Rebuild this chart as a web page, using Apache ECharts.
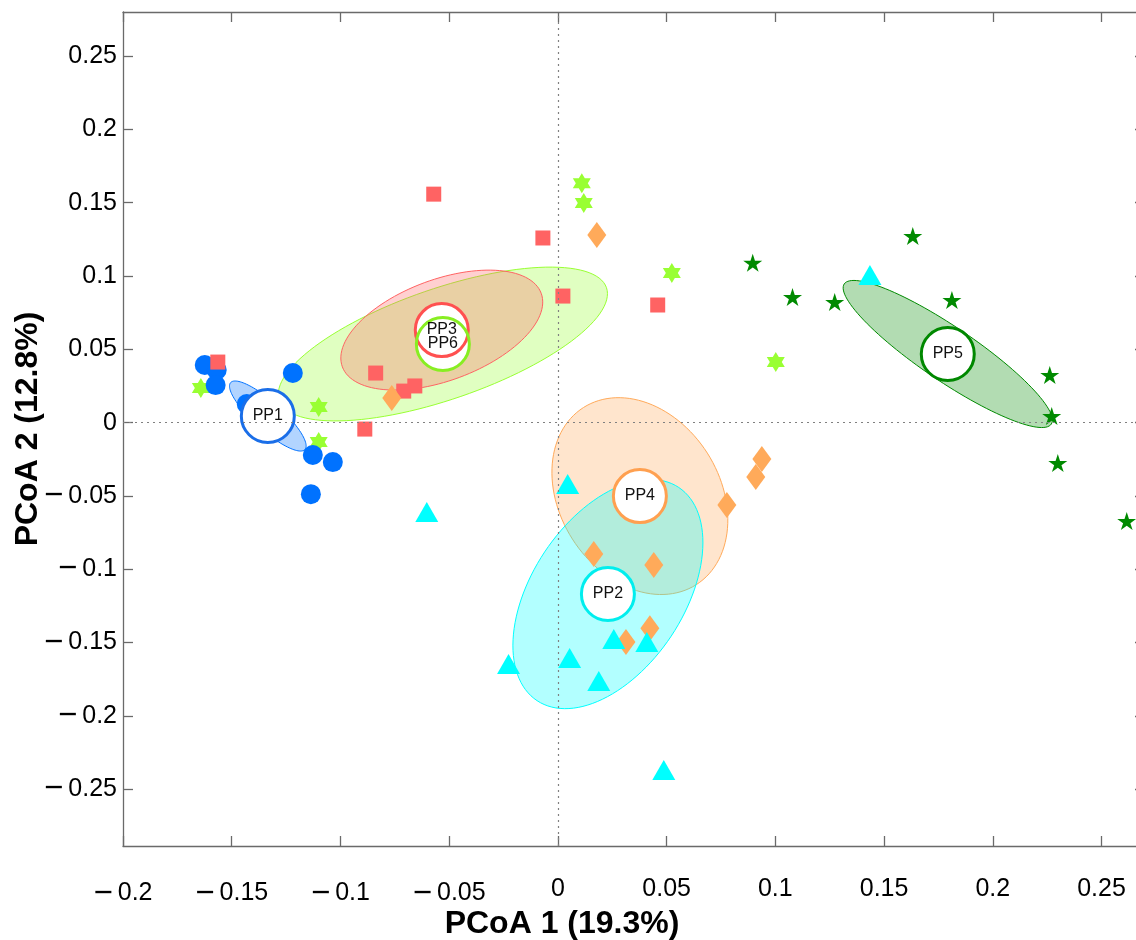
<!DOCTYPE html>
<html>
<head>
<meta charset="utf-8">
<script src="https://cdn.jsdelivr.net/npm/echarts@6/dist/echarts.min.js"></script>
<style>
html,body{margin:0;padding:0;background:#fff;}
#chart{width:1136px;height:940px;}
</style>
</head>
<body>
<div id="chart"></div>
<script>
// ---------------- data ----------------
const xTicks = [-0.2, -0.15, -0.1, -0.05, 0, 0.05, 0.1, 0.15, 0.2, 0.25];
const yTicks = [-0.25, -0.2, -0.15, -0.1, -0.05, 0, 0.05, 0.1, 0.15, 0.2, 0.25];
const xTitle = 'PCoA 1 (19.3%)';
const yTitle = 'PCoA 2 (12.8%)';

const groupNames = ['PP1', 'PP2', 'PP3', 'PP4', 'PP5', 'PP6'];

const pp1Points = [[-0.1624, 0.0393], [-0.1569, 0.0359], [-0.1574, 0.0256], [-0.1219, 0.0338],
  [-0.1431, 0.0127], [-0.1127, -0.0221], [-0.1035, -0.0269], [-0.1136, -0.0488]];
const pp2Points = [[0.0045, -0.0419], [-0.0227, -0.1646], [0.0054, -0.1605], [0.0188, -0.1762],
  [0.0257, -0.1475], [0.0409, -0.1496], [0.0487, -0.2369], [-0.0603, -0.0610], [0.1435, 0.1006]];
const pp3Points = [[-0.0571, 0.1558], [-0.0069, 0.1259], [0.0023, 0.0863], [-0.1564, 0.0413],
  [-0.0838, 0.0338], [-0.0709, 0.0215], [-0.0658, 0.0250], [-0.0888, -0.0044], [0.0459, 0.0802]];
const pp4Points = [[0.0179, 0.1279], [-0.0764, 0.0168], [0.0938, -0.0248], [0.0910, -0.0371],
  [0.0777, -0.0562], [0.0165, -0.0896], [0.0441, -0.0971], [0.0423, -0.1402], [0.0313, -0.1496]];
const pp5Points = [[0.0896, 0.1090], [0.1632, 0.1272], [0.1079, 0.0856], [0.1273, 0.0822],
  [0.1812, 0.0836], [0.2262, 0.0324], [0.2271, 0.0045], [0.2299, -0.0276], [0.2616, -0.0671]];
const pp6Points = [[0.0110, 0.1633], [0.0119, 0.1497], [-0.1642, 0.0236], [-0.1100, 0.0106],
  [-0.1100, -0.0132], [0.0524, 0.1020], [0.1002, 0.0413]];

const centroidX = [-0.1334, 0.0230, -0.0534, 0.0377, 0.1793, -0.0529];
const centroidY = [0.0045, -0.1169, 0.0631, -0.0501, 0.0468, 0.0536];
// ellipse semi-axis vectors (data units)
const ellipseAxis1X = [0.01709, 0.03258, 0.04572, 0.02595, 0.04761, 0.07524];
const ellipseAxis1Y = [-0.02281, 0.07270, 0.02509, -0.06038, -0.04778, 0.03840];
const ellipseAxis2X = [-0.00430, 0.02911, 0.00806, -0.03103, -0.00696, 0.00830];
const ellipseAxis2Y = [-0.00709, -0.02868, -0.03229, -0.02931, -0.01525, -0.03572];

// ---------------- styles ----------------
const groupPoints = [pp1Points, pp2Points, pp3Points, pp4Points, pp5Points, pp6Points];
const colors = ['#0072ff', '#00ffff', '#ff6363', '#ffaa5a', '#008a00', '#99ff33'];
const fills = ['rgba(0,114,255,0.3)', 'rgba(0,255,255,0.3)', 'rgba(255,99,99,0.3)',
  'rgba(255,170,90,0.3)', 'rgba(0,138,0,0.3)', 'rgba(153,255,51,0.3)'];
const ringColors = ['#1a6ee8', '#00eeee', '#ff5050', '#ffa050', '#008800', '#88ee22'];
const hexagram = 'path://M0,-10L2.887,-5L8.66,-5L5.774,0L8.66,5L2.887,5L0,10L-2.887,5L-8.66,5L-5.774,0L-8.66,-5L-2.887,-5Z';
const pentagram = 'path://M0,-10L2.245,-3.09L9.511,-3.09L3.633,1.18L5.878,8.09L0,3.82L-5.878,8.09L-3.633,1.18L-9.511,-3.09L-2.245,-3.09Z';
const symbols = ['circle', 'triangle', 'rect', 'diamond', pentagram, hexagram];
const sizes = [20, [23, 20], 15, [19, 26], [19, 18], [18, 20]];
const FONT = '"Liberation Sans", Arial, Helvetica, sans-serif';

function fmt(v) {
  const a = Math.round(Math.abs(v) * 1000) / 1000;
  return v < -1e-9 ? '{m|\u2212}{n|\u2009' + a + '}' : '{n|' + a + '}';
}
const labelRich = {
  m: { fontSize: 33, fontFamily: FONT, color: '#000' },
  n: { fontSize: 25, fontFamily: FONT, color: '#000' }
};

const ellipseOrder = [0, 5, 2, 3, 1, 4];
const markerOrder = [5, 0, 2, 3, 1, 4];

const ellipseData = ellipseOrder.map(g => [centroidX[g], centroidY[g], ellipseAxis1X[g], ellipseAxis1Y[g],
  ellipseAxis2X[g], ellipseAxis2Y[g], g]);

function renderEllipse(params, api) {
  const cx = api.value(0), cy = api.value(1);
  const ux = api.value(2), uy = api.value(3), vx = api.value(4), vy = api.value(5);
  const g = api.value(6);
  const pts = [];
  const N = 120;
  for (let k = 0; k < N; k++) {
    const t = 2 * Math.PI * k / N;
    pts.push(api.coord([cx + Math.cos(t) * ux + Math.sin(t) * vx, cy + Math.cos(t) * uy + Math.sin(t) * vy]));
  }
  return {
    type: 'polygon',
    shape: { points: pts },
    style: { fill: fills[g], stroke: colors[g], lineWidth: 1 }
  };
}

const series = [];
// zero lines
series.push({
  type: 'line', data: [], z: 0, silent: true,
  markLine: {
    silent: true, symbol: 'none', animation: false,
    label: { show: false },
    lineStyle: { type: [2, 4], color: '#808080', width: 1.2 },
    data: [{ xAxis: 0 }, { yAxis: 0 }]
  }
});
// ellipses
series.push({
  type: 'custom', renderItem: renderEllipse, data: ellipseData, z: 1,
  dimensions: ['cx', 'cy', 'ux', 'uy', 'vx', 'vy', 'g'],
  encode: { x: 0, y: 1 }, silent: true
});
// markers
markerOrder.forEach(g => {
  series.push({
    type: 'scatter', name: groupNames[g], data: groupPoints[g], z: 2,
    symbol: symbols[g], symbolSize: sizes[g],
    itemStyle: { color: colors[g], opacity: 1 }
  });
});
// centroid white fills
series.push({
  type: 'scatter', data: centroidX.map((x, i) => [x, centroidY[i]]), z: 3,
  symbol: 'circle', symbolSize: 53, itemStyle: { color: '#ffffff', opacity: 1 }, silent: true
});
// centroid rings with labels
groupNames.forEach((name, g) => {
  series.push({
    type: 'scatter', z: 4,
    data: [{ name: name, value: [centroidX[g], centroidY[g]] }],
    symbol: 'circle', symbolSize: 53,
    itemStyle: { color: 'rgba(0,0,0,0)', borderColor: ringColors[g], borderWidth: 3, opacity: 1 },
    label: { show: true, position: 'inside', formatter: '{b}', color: '#111', fontSize: 16, fontFamily: FONT }
  });
});

const axisLineStyle = { color: '#6a6a6a', width: 1.3 };

const option = {
  animation: false,
  backgroundColor: '#ffffff',
  grid: { left: 123, top: 12, right: -9, bottom: 94, containLabel: false, outerBoundsMode: 'none' },
  xAxis: [{
    type: 'value', min: -0.2, max: 0.27, position: 'bottom',
    name: xTitle, nameLocation: 'middle', nameGap: 62, nameMoveOverlap: false,
    nameTextStyle: { fontFamily: FONT, fontWeight: 'bold', fontSize: 32, color: '#000', padding: [0, 144, 0, 0] },
    axisLine: { show: true, onZero: false, lineStyle: axisLineStyle },
    axisTick: { show: true, inside: true, length: 10, customValues: xTicks, lineStyle: axisLineStyle },
    axisLabel: { show: true, customValues: xTicks, formatter: fmt, rich: labelRich, margin: 31, fontSize: 25, color: '#000', fontFamily: FONT, showMinLabel: true },
    splitLine: { show: false }
  }, {
    type: 'value', min: -0.2, max: 0.27, position: 'top',
    axisLine: { show: true, onZero: false, lineStyle: axisLineStyle },
    axisTick: { show: true, inside: true, length: 10, customValues: xTicks, lineStyle: axisLineStyle },
    axisLabel: { show: false }, splitLine: { show: false }
  }],
  yAxis: [{
    type: 'value', min: -0.2887, max: 0.28, position: 'left',
    name: yTitle, nameLocation: 'middle', nameGap: 79, nameRotate: 90, nameMoveOverlap: false,
    nameTextStyle: { fontFamily: FONT, fontWeight: 'bold', fontSize: 32, color: '#000' },
    axisLine: { show: true, onZero: false, lineStyle: axisLineStyle },
    axisTick: { show: true, inside: true, length: 10, customValues: yTicks, lineStyle: axisLineStyle },
    axisLabel: { show: true, customValues: yTicks, formatter: fmt, rich: labelRich, margin: 6, fontSize: 25, color: '#000', fontFamily: FONT },
    splitLine: { show: false }
  }, {
    type: 'value', min: -0.2887, max: 0.28, position: 'right',
    axisLine: { show: true, onZero: false, lineStyle: axisLineStyle },
    axisTick: { show: true, inside: true, length: 10, customValues: yTicks, lineStyle: axisLineStyle },
    axisLabel: { show: false }, splitLine: { show: false }
  }],
  series: series
};

const chart = echarts.init(document.getElementById('chart'), null, { renderer: 'canvas' });
chart.setOption(option);
</script>
</body>
</html>
